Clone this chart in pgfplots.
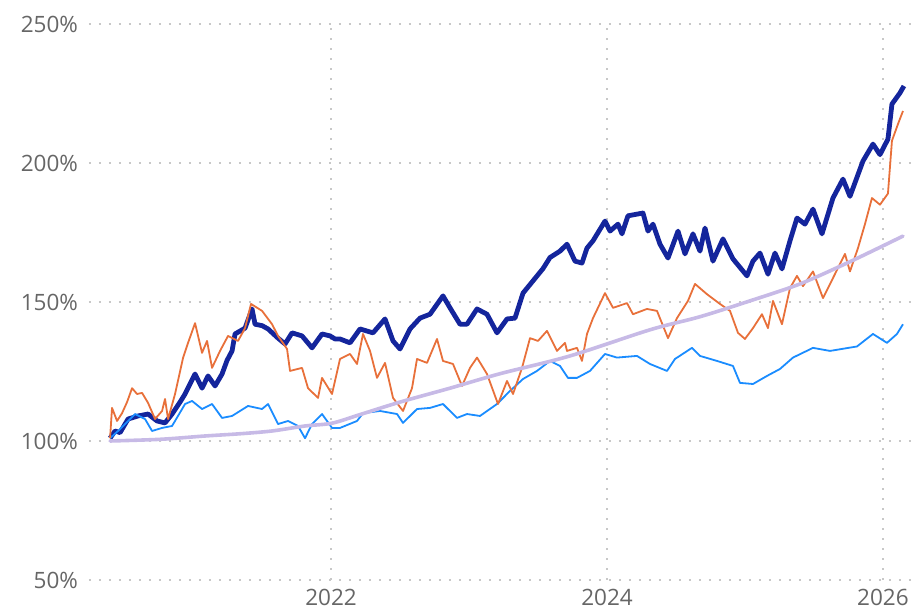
\documentclass[border=0pt]{standalone}
\usepackage{pgfplots}
\pgfplotsset{compat=1.18}
\usepackage{pgfplotstable}
\usepackage{fontspec}
\setmainfont{Open Sans}
\definecolor{navy}{HTML}{14259C}
\definecolor{orng}{HTML}{E8703A}
\definecolor{lblue}{HTML}{1A8CFF}
\definecolor{lav}{HTML}{C7BAE6}
\definecolor{txt}{HTML}{666666}
\definecolor{grd}{HTML}{C8C8C8}

% x column: horizontal position (px of reference), y: value in %
\pgfplotstableread{
px v
110 101
115 103.6
120 103
128 107.9
138 109
148 109.7
157 107.2
165 106.5
172 109.7
180 114
185 116.9
195 124.1
202 119
208 123.4
215 119.8
222 124.1
227 129
232 132.4
235 138.5
245 140.6
252 147.5
255 142
262 141.5
268 140.3
278 137
285 134.9
292 138.9
302 137.8
312 133.5
322 138.5
330 137.8
335 136.7
340 136.7
350 135.3
360 140.3
373 138.9
385 143.9
393 136
400 133.1
410 140.3
420 144.2
430 145.6
443 152.2
450 147.9
460 142
467 142
477 147.5
487 145.6
497 138.9
507 143.9
515 144.2
523 153.2
533 157.6
543 162
550 166
560 168.3
567 170.8
575 164.7
582 164
587 169.4
593 172
605 179.1
610 175.5
618 178
622 174.5
628 181
643 182
648 175.5
653 178
660 170.8
668 165.8
678 175.5
685 167.3
693 174.5
700 168.3
705 176.6
713 164.7
723 172.7
733 165.5
747 159.4
753 164.7
760 167.6
768 160
775 167.6
782 161.9
790 172
797 180.2
805 178
813 183.4
822 174.5
833 187.4
843 194.2
850 188
863 200.7
873 206.8
880 203
888 208.6
892 221.2
900 225.2
904 227.7
}\navydata

\pgfplotstableread{
px v
110 101
118 103.6
128 107.2
135 109.7
145 107.9
152 103.6
162 104.7
172 105.4
185 113.3
192 114.4
202 111.5
212 113.3
222 108.3
232 109
248 112.6
262 111.5
268 113.3
278 106.1
288 107.2
298 105.4
305 101
312 106.1
322 109.7
332 104.7
340 104.7
357 107.2
363 110
380 110.8
397 109.7
403 106.5
417 111.5
430 111.9
443 113.3
457 108.3
467 109.7
480 109
497 113.3
510 118
523 122.3
537 125.2
550 128.8
560 127
568 122.7
577 122.7
590 125.2
605 131.3
617 130
637 130.6
650 127.7
667 125.2
675 129.5
692 133.5
700 130.6
717 128.8
733 127
740 120.9
753 120.5
767 123.4
780 125.9
793 130
813 133.5
830 132.4
857 134
873 138.5
887 135.3
897 138.5
903 142
}\bluedata

\pgfplotstableread{
px v
110 101
112 111.9
117 107.2
122 110
127 114
132 119
137 116.9
142 117.3
148 113.7
155 107.9
162 110.8
165 115.1
168 107.9
175 116.9
183 129.9
188 135.3
195 142.4
202 131.7
207 136
212 126.3
220 132.4
228 137.8
238 136
245 140.6
251 149.3
262 146.8
272 142
278 137.8
287 133.1
290 125.2
302 126.3
308 119
318 115.5
322 122.7
332 116.9
340 129.5
350 131.3
357 127.7
363 138.5
370 132.4
377 122.7
385 128.1
393 115.5
403 110.8
412 119
417 129.5
427 128.1
437 136.7
443 128.8
453 127.7
462 119.8
470 126.3
477 130
487 124.1
498 113.3
507 121.6
513 116.9
522 126.3
530 137
538 136
547 139.6
557 132.4
565 135.3
567 132.4
577 133.5
582 128.8
587 138.5
593 144.2
605 153.2
613 147.9
627 149.6
633 145.6
647 147.5
657 146.8
668 137
677 144.2
688 150.4
695 156.5
707 152.8
720 149.3
730 146.8
738 138.9
745 136.7
753 140.6
762 145.6
768 140.6
773 150.4
782 142
790 155
797 159.4
803 155.7
813 161
823 151.4
833 158.6
845 167.3
850 161
858 169.4
865 178
872 187.4
880 185
888 189
892 208
898 214
903 218.7
}\orangedata

\pgfplotstableread{
px v
110 100
160 100.6
205 101.8
240 102.6
272 103.6
305 105.4
332 106.4
360 109.5
400 114
450 119
500 124.2
570 130.6
650 140
700 144.7
750 150.4
800 156.5
850 164.5
903 173.7
}\lavdata

\begin{document}
\begin{tikzpicture}
\begin{axis}[
  scale only axis,
  width=413bp, height=278bp,
  xmin=2020.246, xmax=2026.232,
  ymin=50, ymax=250,
  xtick={2022,2024,2026},
  xticklabels={2022,2024,2026},
  ytick={50,100,150,200,250},
  yticklabel={\pgfmathprintnumber{\tick}\%},
  /pgf/number format/assume math mode=true,
  axis line style={draw=none},
  tick style={draw=none},
  xmajorgrids, ymajorgrids,
  grid style={grd, line width=0.9bp, dash pattern=on 0.9bp off 4.1bp},
  ticklabel style={font=\fontsize{11.3}{13}\selectfont, text=txt},
  yticklabel style={xshift=-2bp},
  xticklabel style={yshift=-1bp},
  clip=false,
]
\addplot[navy, line width=2.4bp, line join=round] table[x expr={2022+(\thisrow{px}-331)/138}, y=v] {\navydata};
\addplot[lblue, line width=0.9bp, line join=round] table[x expr={2022+(\thisrow{px}-331)/138}, y=v] {\bluedata};
\addplot[orng, line width=0.9bp, line join=round] table[x expr={2022+(\thisrow{px}-331)/138}, y=v] {\orangedata};
\addplot[lav, line width=1.8bp, line cap=round, smooth] table[x expr={2022+(\thisrow{px}-331)/138}, y=v] {\lavdata};
\end{axis}
\pgfresetboundingbox
\path[use as bounding box] (current axis.south west) ++(-44.5bp,-15.5bp) rectangle ([yshift=12bp]current axis.north east);
\end{tikzpicture}
\end{document}
